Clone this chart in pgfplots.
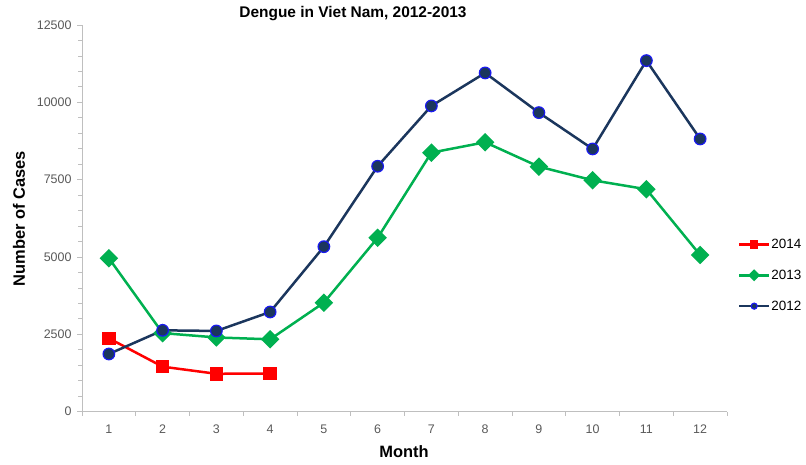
\documentclass[border=0pt]{standalone}
\usepackage{pgfplots}
\pgfplotsset{compat=1.18}
\usepackage{fontspec}
\setmainfont{Liberation Sans}
\definecolor{c2012}{HTML}{1B365D}
\definecolor{e2012}{HTML}{1A1AF0}
\definecolor{c2013}{HTML}{00B050}
\definecolor{c2014}{HTML}{FF0000}
\definecolor{axgray}{HTML}{BFBFBF}
\definecolor{tickgray}{HTML}{595959}
\begin{document}
\begin{tikzpicture}[x=1bp,y=1bp]
\useasboundingbox (0,0) rectangle (806,465);
\begin{axis}[
  at={(82bp,53.3bp)}, anchor=south west,
  scale only axis, width=645bp, height=386.7bp,
  xmin=0.5, xmax=12.5, ymin=0, ymax=12500,
  axis lines*=left,
  axis line style={draw=axgray, line width=0.8bp},
  xtick={1,...,12},
  minor xtick={0.5,1.5,...,12.5},
  major x tick style={draw=none},
  ytick={0,2500,...,12500},
  minor y tick num=4,
  tick style={draw=axgray, line width=0.8bp},
  tick align=outside,
  major tick length=5bp, minor tick length=4bp,
  scaled y ticks=false,
  /pgf/number format/assume math mode=true,
  /pgf/number format/set thousands separator={},
  ticklabel style={font=\fontsize{12.5}{14}\selectfont, color=tickgray},
  xticklabel style={yshift=-5bp},
  yticklabel style={xshift=-2bp},
  clip=false,
  legend style={at={(1.012,0.455)}, anchor=north west, draw=none, fill=none,
    font=\fontsize{13.5}{15}\selectfont, row sep=18bp,
    nodes={inner sep=1bp}},
  legend cell align=left,
  legend image code/.code={%
    \draw[mark repeat=2,mark phase=2,#1,mark size=3bp] plot coordinates {(0bp,0bp) (15bp,0bp) (30bp,0bp)};},
]
\addplot[color=c2014, line width=2.5bp, mark=square*, mark size=5.5bp, mark options={fill=c2014}]
  coordinates {(1,2373) (2,1455) (3,1225) (4,1235)};
\addlegendentry{2014}
\addplot[color=c2013, line width=2.5bp, mark=square*, mark size=5.3bp, mark options={fill=c2013, rotate=45}]
  coordinates {(1,4960) (2,2540) (3,2400) (4,2340) (5,3524) (6,5620) (7,8374) (8,8709) (9,7921) (10,7481) (11,7190) (12,5066)};
\addlegendentry{2013}
\addplot[color=c2012, line width=2.5bp, mark=*, mark size=5.8bp, mark options={fill=c2012, draw=e2012, line width=1.2bp}]
  coordinates {(1,1865) (2,2630) (3,2610) (4,3223) (5,5334) (6,7934) (7,9884) (8,10950) (9,9667) (10,8493) (11,11348) (12,8816)};
\addlegendentry{2012}
\end{axis}
\node[font=\bfseries\fontsize{15.5}{18}\selectfont] at (353,451) {Dengue in Viet Nam, 2012-2013};
\node[rotate=90, font=\bfseries\fontsize{16.5}{19}\selectfont] at (19,246.5) {Number of Cases};
\node[font=\bfseries\fontsize{16.5}{19}\selectfont] at (404,13) {Month};
\end{tikzpicture}
\end{document}
